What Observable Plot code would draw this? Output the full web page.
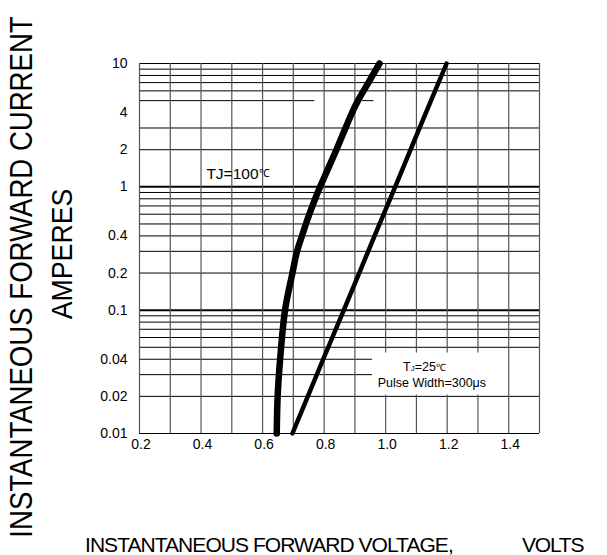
<!DOCTYPE html>
<html><head><meta charset="utf-8">
<script src="https://cdn.jsdelivr.net/npm/d3@7"></script>
<script src="https://cdn.jsdelivr.net/npm/@observablehq/plot@0.6"></script>
<style>
body{margin:0;background:#fff;}
#chart{position:relative;width:607px;height:555px;overflow:hidden;}
</style>
</head><body><div id="chart"></div>
<script>
// ---- tick values and labels ----
const xTicks = [0.2, 0.4, 0.6, 0.8, 1.0, 1.2, 1.4];
const xTickLabels = ["0.2", "0.4", "0.6", "0.8", "1.0", "1.2", "1.4"];
const yTicks = [0.01, 0.02, 0.04, 0.1, 0.2, 0.4, 1, 2, 4, 10];
const yTickLabels = ["0.01", "0.02", "0.04", "0.1", "0.2", "0.4", "1", "2", "4", "10"];

// ---- grid values ----
const vGrid = [0.2, 0.3, 0.4, 0.5, 0.6, 0.7, 0.8, 0.9, 1.0, 1.1, 1.2, 1.3];
const vGridTop = [1.4, 1.5];
const hGrid = [0.01, 0.02, 0.03, 0.04, 0.05, 0.06, 0.07, 0.08, 0.09,
               0.2, 0.3, 0.4, 0.5, 0.6, 0.7, 0.8, 0.9,
               2, 3, 6, 7, 8, 9, 10];
const hGridMajor = [0.1, 1];
const hGridPartialY = [5, 5];
const hGridPartialX1 = [0.2, 0.925];
const hGridPartialX2 = [0.77, 0.962];

// ---- series: TJ = 100 C ----
const current100 = [0.01, 0.02, 0.04, 0.1, 0.2, 0.3, 0.4, 0.6, 0.8, 1, 2, 4, 5, 7, 10];
const voltage100 = [0.646, 0.649, 0.657, 0.673, 0.697, 0.712, 0.728, 0.752, 0.771, 0.787, 0.840, 0.891, 0.910, 0.944, 0.980];
// ---- series: TJ = 25 C ----
const current25 = [0.01, 0.02, 0.04, 0.1, 0.2, 0.4, 1, 2, 4, 10];
const voltage25 = [0.697, 0.747, 0.797, 0.864, 0.914, 0.964, 1.031, 1.081, 1.131, 1.198];

// ---- annotation anchors (data units) ----
const label100 = {x: 0.419, y: 1.28};
const label25 = {x: 1.058, y: 0.0346};
const labelPulse = {x: 1.152, y: 0.0255};
const legendBox = {x1: 0.957, x2: 1.5, y1: 0.0205, y2: 0.0449};

const s100 = current100.map((c, i) => ({v: voltage100[i], i: c}));
const s25 = current25.map((c, i) => ({v: voltage25[i], i: c}));
const partial = hGridPartialY.map((y, k) => ({y, x1: hGridPartialX1[k], x2: hGridPartialX2[k]}));
const yLabelRows = yTicks.map((t, i) => ({t, label: yTickLabels[i]}));
const xLabelRows = xTicks.map((t, i) => ({t, label: xTickLabels[i]}));

const font = "'Liberation Sans', Arial, Helvetica, sans-serif";

const plot = Plot.plot({
  width: 607, height: 555,
  marginLeft: 139, marginRight: 68, marginTop: 63, marginBottom: 122,
  style: {fontFamily: font, background: "#fff", color: "#000"},
  x: {domain: [0.2, 1.5], axis: null},
  y: {type: "log", domain: [0.01, 10], axis: null},
  marks: [
    Plot.ruleY(hGrid, {stroke: "#000", strokeWidth: 1}),
    Plot.ruleY(partial, {y: "y", x1: "x1", x2: "x2", stroke: "#000", strokeWidth: 1}),
    Plot.ruleY(hGridMajor, {stroke: "#000", strokeWidth: 2}),
    Plot.ruleX(vGrid, {stroke: "#555", strokeWidth: 1.2}),
    Plot.rect([legendBox], {x1: "x1", x2: "x2", y1: "y1", y2: "y2", fill: "#fff"}),
    Plot.ruleX(vGridTop, {stroke: "#555", strokeWidth: 1.2}),
    Plot.line(s100, {x: "v", y: "i", stroke: "#000", strokeWidth: 6.5, curve: "catmull-rom", strokeLinecap: "round"}),
    Plot.line(s25, {x: "v", y: "i", stroke: "#000", strokeWidth: 4.5, strokeLinecap: "round"}),
    Plot.text(xLabelRows, {x: "t", text: "label", frameAnchor: "bottom", dy: 15, dx: 1.5, fontSize: 14, fill: "#000"}),
    Plot.text(yLabelRows, {y: "t", text: "label", frameAnchor: "left", textAnchor: "end", dx: -12, fontSize: 14, fill: "#000"})
  ]
});

document.getElementById("chart").appendChild(plot);

const svg = d3.select(plot);
const sx = plot.scale("x"), sy = plot.scale("y");

// TJ=100 label
const t1 = svg.append("text")
  .attr("x", sx.apply(label100.x)).attr("y", sy.apply(label100.y))
  .attr("dy", "0.35em").attr("text-anchor", "start")
  .attr("font-family", font).attr("font-size", 15.5).attr("fill", "#000");
t1.append("tspan").text("TJ=100");
t1.append("tspan").attr("font-size", 11).attr("dy", "-0.1em").text("℃");

// TJ=25 label
const t2 = svg.append("text")
  .attr("x", sx.apply(label25.x)).attr("y", sy.apply(label25.y))
  .attr("dy", "0.35em").attr("text-anchor", "start")
  .attr("font-family", font).attr("font-size", 12.5).attr("fill", "#000");
t2.append("tspan").text("T");
t2.append("tspan").attr("font-size", 8).text("J");
t2.append("tspan").text("=25");
t2.append("tspan").attr("font-size", 10).text("℃");

svg.append("text")
  .attr("x", sx.apply(labelPulse.x)).attr("y", sy.apply(labelPulse.y))
  .attr("dy", "0.35em").attr("text-anchor", "middle")
  .attr("font-family", font).attr("font-size", 12.5).attr("fill", "#000")
  .text("Pulse Width=300μs");

// Y axis titles
svg.append("text")
  .attr("transform", "translate(31.5,277) rotate(-90) scale(0.89,1)")
  .attr("text-anchor", "middle").attr("font-family", font).attr("font-size", 31).attr("fill", "#000")
  .text("INSTANTANEOUS FORWARD CURRENT");
svg.append("text")
  .attr("transform", "translate(71.5,254) rotate(-90) scale(0.89,1)")
  .attr("text-anchor", "middle").attr("font-family", font).attr("font-size", 30).attr("fill", "#000")
  .text("AMPERES");

// X axis title
svg.append("text")
  .attr("x", 85).attr("y", 552).attr("text-anchor", "start")
  .attr("font-family", font).attr("font-size", 21).attr("letter-spacing", "-0.95px").attr("fill", "#000")
  .text("INSTANTANEOUS FORWARD VOLTAGE,");
svg.append("text")
  .attr("x", 522).attr("y", 552).attr("text-anchor", "start")
  .attr("font-family", font).attr("font-size", 21).attr("letter-spacing", "-1.2px").attr("fill", "#000")
  .text("VOLTS");
</script>
</body></html>
